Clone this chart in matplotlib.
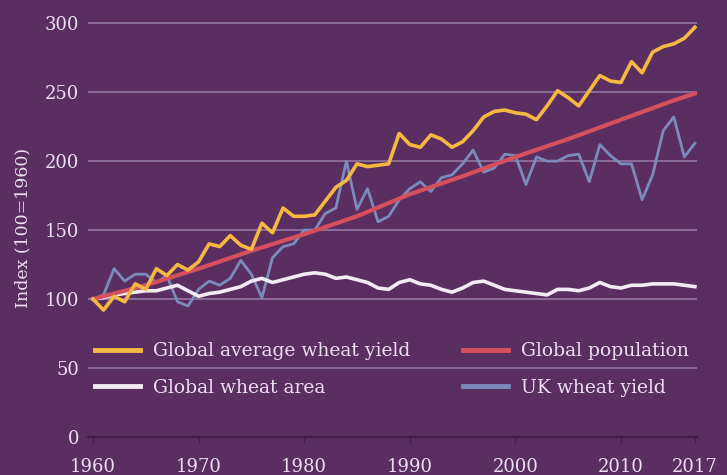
import matplotlib.pyplot as plt
import numpy as np

# values (index, 1960 = 100)
years = list(range(1960, 2018))

global_yield = [100, 92, 102, 98, 111, 107, 122, 117, 125, 121,
                127, 140, 138, 146, 139, 136, 155, 148, 166, 160,
                160, 161, 171, 181, 186, 198, 196, 197, 198, 220,
                212, 210, 219, 216, 210, 214, 222, 232, 236, 237,
                235, 234, 230, 240, 251, 246, 240, 251, 262, 258,
                257, 272, 264, 279, 283, 285, 289, 297]

wheat_area = [100, 101, 103, 104, 105, 106, 106, 108, 110, 106,
              102, 104, 105, 107, 109, 113, 115, 112, 114, 116,
              118, 119, 118, 115, 116, 114, 112, 108, 107, 112,
              114, 111, 110, 107, 105, 108, 112, 113, 110, 107,
              106, 105, 104, 103, 107, 107, 106, 108, 112, 109,
              108, 110, 110, 111, 111, 111, 110, 109]

uk_yield = [100, 103, 122, 113, 118, 118, 112, 117, 98, 95,
            107, 113, 110, 115, 128, 118, 101, 130, 138, 140,
            150, 150, 162, 166, 200, 165, 180, 156, 160, 172,
            180, 185, 178, 188, 190, 198, 208, 192, 195, 205,
            204, 183, 203, 200, 200, 204, 205, 185, 212, 204,
            198, 198, 172, 190, 222, 232, 203, 213]

pop_years = [1960, 1965, 1970, 1975, 1980, 1985, 1990, 1995, 2000, 2005, 2010, 2015, 2017]
population = [100, 110, 122, 135, 147, 160, 176, 189, 203, 216, 230, 244, 249]

bg = "#5b2e62"
txt = "#ece0f0"
grid = "#8c6c98"

plt.rcParams["font.family"] = ["DejaVu Serif"]

fig = plt.figure(figsize=(7.27, 4.75), dpi=100, facecolor=bg)
ax = fig.add_axes([87.7 / 727, 0.08, (697 - 87.7) / 727, 0.88])
ax.set_facecolor(bg)

ax.plot(years, uk_yield, color="#7a8cba", lw=2, zorder=3, label="UK wheat yield")
ax.plot(years, wheat_area, color="#f4eaf6", lw=2.6, zorder=4, label="Global wheat area")
ax.plot(pop_years, population, color="#d5505c", lw=3, zorder=5, label="Global population")
ax.plot(years, global_yield, color="#f5b942", lw=2.6, zorder=6, label="Global average wheat yield")

ax.set_xlim(1959.5, 2017.2)
ax.set_ylim(0, 303)
ax.set_yticks([0, 50, 100, 150, 200, 250, 300])
ax.set_xticks([1960, 1970, 1980, 1990, 2000, 2010, 2017])
ax.grid(axis="y", color=grid, lw=1.4, zorder=1)
ax.set_axisbelow(True)

for s in ["top", "right", "left"]:
    ax.spines[s].set_visible(False)
ax.spines["bottom"].set_color("#3e1c45")
ax.spines["bottom"].set_linewidth(1.5)
ax.tick_params(axis="y", length=0, colors=txt, labelsize=13, pad=6)
ax.tick_params(axis="x", length=4, color="#3e1c45", colors=txt, labelsize=13, pad=11)
for t in ax.get_xticklabels():
    t.set_color(txt)
ax.set_ylabel("Index (100=1960)", color=txt, fontsize=12.5, labelpad=10)

h, l = ax.get_legend_handles_labels()
order = [3, 1, 2, 0]
leg = ax.legend([h[i] for i in order], [l[i] for i in order], ncol=2,
                loc="upper left", bbox_to_anchor=(0.0, 0.245), frameon=False,
                fontsize=13.5, handlelength=2.4, handletextpad=0.7,
                labelspacing=1.0, columnspacing=2.8, borderaxespad=0)
for t in leg.get_texts():
    t.set_color(txt)
for ln in leg.get_lines():
    ln.set_linewidth(3.5)

fig.savefig("out.png", dpi=100, facecolor=bg)
